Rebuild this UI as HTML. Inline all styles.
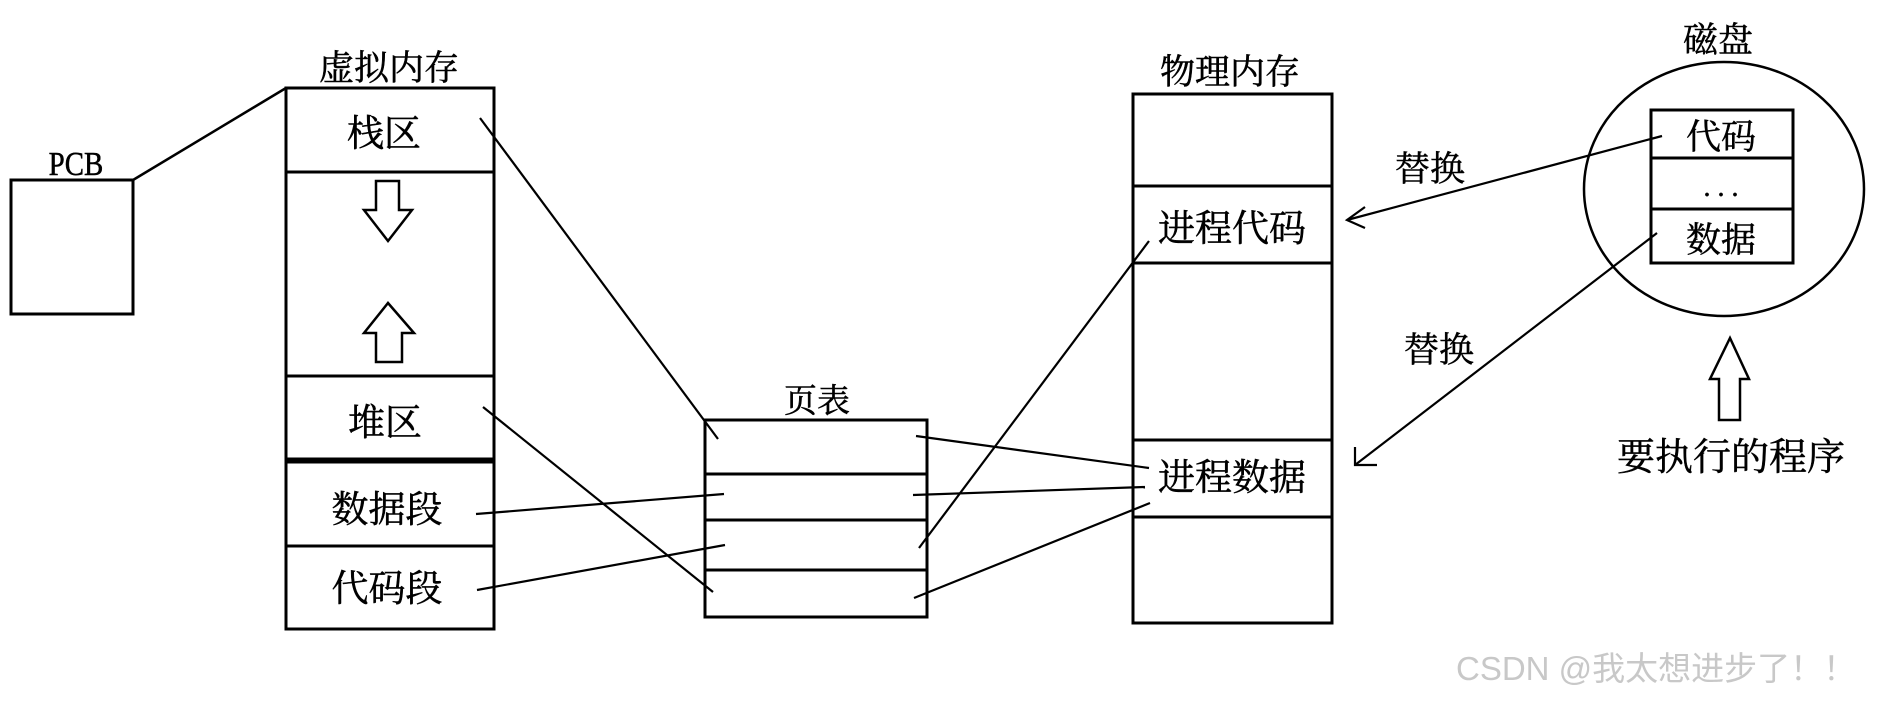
<!DOCTYPE html>
<html><head><meta charset="utf-8"><style>
html,body{margin:0;padding:0;background:#fff;}
svg{display:block;}
text.t{font-family:"Liberation Serif","Noto Serif CJK SC",serif;fill:#000;stroke:#000;stroke-width:0.5;}
</style></head><body>
<svg width="1888" height="701" viewBox="0 0 1888 701" xmlns="http://www.w3.org/2000/svg">
<g fill="none" stroke="#000" stroke-width="3">
<rect x="11" y="180" width="122" height="134"/>
<line x1="133" y1="180" x2="286" y2="88" stroke-width="2.5"/>
<rect x="286" y="88" width="208" height="541"/>
<line x1="286" y1="172" x2="494" y2="172"/>
<line x1="286" y1="376" x2="494" y2="376"/>
<line x1="286" y1="459" x2="494" y2="459"/>
<line x1="286" y1="462" x2="494" y2="462"/>
<line x1="286" y1="546" x2="494" y2="546"/>
<polygon points="376,181 399,181 399,210 412,210 388,241 364,210 376,210" stroke-width="2.5"/>
<polygon points="388,303 414,333 402,333 402,362 376,362 376,333 364,333" stroke-width="2.5"/>
<rect x="705" y="420" width="222" height="197"/>
<line x1="705" y1="474" x2="927" y2="474"/>
<line x1="705" y1="520" x2="927" y2="520"/>
<line x1="705" y1="570" x2="927" y2="570"/>
<rect x="1133" y="94" width="199" height="529"/>
<line x1="1133" y1="186" x2="1332" y2="186"/>
<line x1="1133" y1="263" x2="1332" y2="263"/>
<line x1="1133" y1="440" x2="1332" y2="440"/>
<line x1="1133" y1="517" x2="1332" y2="517"/>
<ellipse cx="1724" cy="189" rx="140" ry="127" stroke-width="2.5"/>
<rect x="1651" y="110" width="142" height="153"/>
<line x1="1651" y1="158" x2="1793" y2="158"/>
<line x1="1651" y1="209" x2="1793" y2="209"/>
<polygon points="1730,338 1749,379 1740,379 1740,420 1719,420 1719,379 1710,379" stroke-width="2.5"/>
</g>
<g stroke="#000" stroke-width="2.2" fill="none">
<line x1="480" y1="118" x2="718" y2="439"/>
<line x1="483" y1="407" x2="713" y2="592"/>
<line x1="476" y1="514" x2="724" y2="494"/>
<line x1="477" y1="590" x2="725" y2="545"/>
<line x1="916" y1="436" x2="1149" y2="468"/>
<line x1="913" y1="495" x2="1145" y2="487"/>
<line x1="919" y1="548" x2="1149" y2="241"/>
<line x1="914" y1="598" x2="1150" y2="503"/>
<line x1="1662" y1="136" x2="1347" y2="220"/>
<polyline points="1365,207 1347,220 1365,228"/>
<line x1="1657" y1="233" x2="1355" y2="465"/>
<polyline points="1355,447 1355,465 1377,465"/>
</g>
<g font-size="37" text-anchor="middle">
<text class="t" x="389" y="80" font-size="35">虚拟内存</text>
<text class="t" x="384" y="146">栈区</text>
<text class="t" x="385" y="435">堆区</text>
<text class="t" x="387" y="522">数据段</text>
<text class="t" x="387" y="601">代码段</text>
<text class="t" x="817" y="412" font-size="33">页表</text>
<text class="t" x="1230" y="84" font-size="35">物理内存</text>
<text class="t" x="1232" y="241">进程代码</text>
<text class="t" x="1232" y="490">进程数据</text>
<text class="t" x="1718" y="52" font-size="35">磁盘</text>
<text class="t" x="1721" y="149" font-size="35">代码</text>
<text class="t" x="1721" y="196" font-size="28">. . .</text>
<text class="t" x="1721" y="252" font-size="35">数据</text>
<text class="t" x="1430" y="181" font-size="35">替换</text>
<text class="t" x="1439" y="362" font-size="35">替换</text>
<text class="t" x="1731" y="470" font-size="38">要执行的程序</text>
<text class="t" x="76" y="175" font-size="34" transform="translate(76,0) scale(0.85,1) translate(-76,0)">PCB</text>
</g>
<text x="1456" y="680" font-size="33" style="font-family:'Liberation Sans','Noto Sans CJK SC',sans-serif;fill:#c8c8c8">CSDN @我太想进步了！！</text>
</svg>
</body></html>
